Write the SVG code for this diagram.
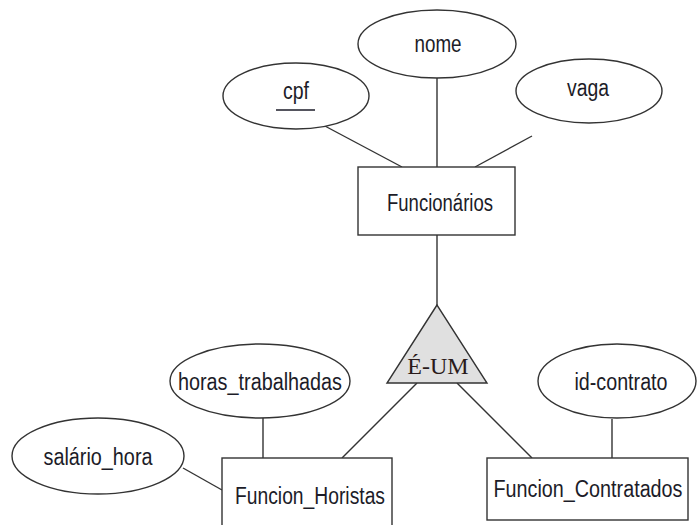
<svg xmlns="http://www.w3.org/2000/svg" width="698" height="525" viewBox="0 0 698 525">
<style>
.shape{fill:#ffffff;stroke:#333333;stroke-width:1.4}
.lbl{font-family:"Liberation Sans",Arial,sans-serif;font-size:23.5px;fill:#1c1c28;text-anchor:middle}
.ser{font-family:"Liberation Serif","Times New Roman",serif;font-size:24px;fill:#2a1a1a;text-anchor:middle}
.edge{stroke:#333333;stroke-width:1.4;fill:none}
</style>
<rect width="698" height="525" fill="#ffffff"/>
<g id="connectors">
<line class="edge" x1="323" y1="125" x2="402" y2="167"/>
<line class="edge" x1="437" y1="78" x2="437" y2="167"/>
<line class="edge" x1="532" y1="136" x2="475" y2="167"/>
<line class="edge" x1="437" y1="235" x2="437" y2="305"/>
<line class="edge" x1="417" y1="383" x2="342" y2="458"/>
<line class="edge" x1="457" y1="383" x2="532" y2="458"/>
<line class="edge" x1="263" y1="418" x2="263" y2="458"/>
<line class="edge" x1="183" y1="468" x2="222" y2="490"/>
<line class="edge" x1="612" y1="419" x2="612" y2="458"/>
</g>
<g id="cpf">
<ellipse class="shape" cx="296" cy="96" rx="73" ry="33"/>
<text class="lbl" x="296" y="99" textLength="26" lengthAdjust="spacingAndGlyphs">cpf</text>
<line x1="276" y1="110" x2="315" y2="110" stroke="#1c1c28" stroke-width="1.4"/>
</g>
<g id="nome">
<ellipse class="shape" cx="437" cy="44" rx="79" ry="34"/>
<text class="lbl" x="438" y="52" textLength="47" lengthAdjust="spacingAndGlyphs">nome</text>
</g>
<g id="vaga">
<ellipse class="shape" cx="589" cy="91" rx="73" ry="32"/>
<text class="lbl" x="588" y="96" textLength="42" lengthAdjust="spacingAndGlyphs">vaga</text>
</g>
<g id="funcionarios">
<rect class="shape" x="358" y="167" width="157" height="68"/>
<text class="lbl" x="440" y="211" textLength="106" lengthAdjust="spacingAndGlyphs">Funcionários</text>
</g>
<g id="eum">
<polygon points="437,305 387,383 487,383" fill="#e0e0e0" stroke="#333333" stroke-width="1.4"/>
<text class="ser" x="438" y="374">É-UM</text>
</g>
<g id="horas_trabalhadas">
<ellipse class="shape" cx="260" cy="381" rx="90" ry="37"/>
<text class="lbl" x="260" y="390" textLength="164" lengthAdjust="spacingAndGlyphs">horas_trabalhadas</text>
</g>
<g id="salario_hora">
<ellipse class="shape" cx="98" cy="456" rx="86" ry="38"/>
<text class="lbl" x="98" y="465" textLength="109" lengthAdjust="spacingAndGlyphs">salário_hora</text>
</g>
<g id="funcion_horistas">
<rect class="shape" x="222" y="458" width="170" height="75"/>
<text class="lbl" x="310" y="504" textLength="150" lengthAdjust="spacingAndGlyphs">Funcion_Horistas</text>
</g>
<g id="id_contrato">
<ellipse class="shape" cx="617" cy="381" rx="79" ry="37"/>
<text class="lbl" x="621" y="390" textLength="93" lengthAdjust="spacingAndGlyphs">id-contrato</text>
</g>
<g id="funcion_contratados">
<rect class="shape" x="487" y="458" width="201" height="62"/>
<text class="lbl" x="588" y="497" textLength="189" lengthAdjust="spacingAndGlyphs">Funcion_Contratados</text>
</g>
</svg>
